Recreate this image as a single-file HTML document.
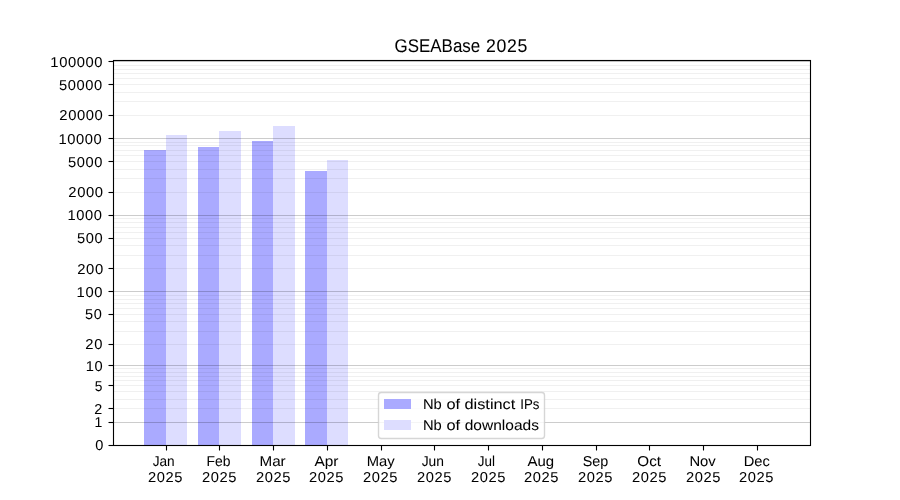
<!DOCTYPE html>
<html><head><meta charset="utf-8"><title>GSEABase 2025</title>
<style>
html,body{margin:0;padding:0;background:#fff;}
svg{display:block;font-family:"Liberation Sans",sans-serif;}
</style></head>
<body>
<svg width="900" height="500" viewBox="0 0 900 500" shape-rendering="geometricPrecision">
<rect x="0" y="0" width="900" height="500" fill="#ffffff"/>
<g>
<rect x="144" y="150" width="22" height="295" fill="#aaaaff"/>
<rect x="166" y="135" width="21" height="310" fill="#ddddff"/>
<rect x="198" y="147" width="21" height="298" fill="#aaaaff"/>
<rect x="219" y="131" width="22" height="314" fill="#ddddff"/>
<rect x="252" y="141" width="21" height="304" fill="#aaaaff"/>
<rect x="273" y="126" width="22" height="319" fill="#ddddff"/>
<rect x="305" y="171" width="22" height="274" fill="#aaaaff"/>
<rect x="327" y="160" width="21" height="285" fill="#ddddff"/>
</g>
<g stroke="#000" stroke-width="1.111" stroke-opacity="0.058">
<path d="M113.5 65.5H810.5"/>
<path d="M113.5 69.5H810.5"/>
<path d="M113.5 73.5H810.5"/>
<path d="M113.5 78.5H810.5"/>
<path d="M113.5 84.5H810.5"/>
<path d="M113.5 92.5H810.5"/>
<path d="M113.5 101.5H810.5"/>
<path d="M113.5 115.5H810.5"/>
<path d="M113.5 142.5H810.5"/>
<path d="M113.5 145.5H810.5"/>
<path d="M113.5 150.5H810.5"/>
<path d="M113.5 155.5H810.5"/>
<path d="M113.5 161.5H810.5"/>
<path d="M113.5 169.5H810.5"/>
<path d="M113.5 178.5H810.5"/>
<path d="M113.5 192.5H810.5"/>
<path d="M113.5 218.5H810.5"/>
<path d="M113.5 222.5H810.5"/>
<path d="M113.5 227.5H810.5"/>
<path d="M113.5 232.5H810.5"/>
<path d="M113.5 238.5H810.5"/>
<path d="M113.5 245.5H810.5"/>
<path d="M113.5 255.5H810.5"/>
<path d="M113.5 268.5H810.5"/>
<path d="M113.5 295.5H810.5"/>
<path d="M113.5 299.5H810.5"/>
<path d="M113.5 303.5H810.5"/>
<path d="M113.5 308.5H810.5"/>
<path d="M113.5 314.5H810.5"/>
<path d="M113.5 321.5H810.5"/>
<path d="M113.5 331.5H810.5"/>
<path d="M113.5 344.5H810.5"/>
<path d="M113.5 368.5H810.5"/>
<path d="M113.5 372.5H810.5"/>
<path d="M113.5 376.5H810.5"/>
<path d="M113.5 380.5H810.5"/>
<path d="M113.5 385.5H810.5"/>
<path d="M113.5 391.5H810.5"/>
<path d="M113.5 399.5H810.5"/>
<path d="M113.5 408.5H810.5"/>
</g>
<g stroke="#000" stroke-width="1.111" stroke-opacity="0.2">
<path d="M113.5 61.5H810.5"/>
<path d="M113.5 138.5H810.5"/>
<path d="M113.5 215.5H810.5"/>
<path d="M113.5 291.5H810.5"/>
<path d="M113.5 365.5H810.5"/>
<path d="M113.5 422.5H810.5"/>
</g>
<g stroke="#000" stroke-width="1.111">
<path d="M108.5 61.5H113.5"/>
<path d="M108.5 84.5H113.5"/>
<path d="M108.5 115.5H113.5"/>
<path d="M108.5 138.5H113.5"/>
<path d="M108.5 161.5H113.5"/>
<path d="M108.5 192.5H113.5"/>
<path d="M108.5 215.5H113.5"/>
<path d="M108.5 238.5H113.5"/>
<path d="M108.5 268.5H113.5"/>
<path d="M108.5 291.5H113.5"/>
<path d="M108.5 314.5H113.5"/>
<path d="M108.5 344.5H113.5"/>
<path d="M108.5 365.5H113.5"/>
<path d="M108.5 385.5H113.5"/>
<path d="M108.5 408.5H113.5"/>
<path d="M108.5 422.5H113.5"/>
<path d="M108.5 445.5H113.5"/>
<path d="M166.5 445.5V450.5"/>
<path d="M219.5 445.5V450.5"/>
<path d="M273.5 445.5V450.5"/>
<path d="M327.5 445.5V450.5"/>
<path d="M381.5 445.5V450.5"/>
<path d="M434.5 445.5V450.5"/>
<path d="M488.5 445.5V450.5"/>
<path d="M542.5 445.5V450.5"/>
<path d="M596.5 445.5V450.5"/>
<path d="M649.5 445.5V450.5"/>
<path d="M703.5 445.5V450.5"/>
<path d="M757.5 445.5V450.5"/>
<rect x="113.5" y="60.5" width="697" height="385" fill="none"/>
</g>
<rect x="378.5" y="392.5" width="166" height="46" rx="2.8" ry="2.8" fill="#fff" fill-opacity="0.8" stroke="#cccccc" stroke-opacity="0.8" stroke-width="1.389"/>
<rect x="384" y="399" width="27" height="10" fill="#aaaaff"/>
<rect x="384" y="420" width="27" height="10" fill="#ddddff"/>
<g fill="#000" stroke="#000" stroke-width="0.04" text-rendering="geometricPrecision" style="filter:grayscale(1)">
<text transform="translate(394.57,52) scale(0.9207,1)" font-size="18.4">GSEABase</text>
<text transform="translate(486.05,52) scale(0.9607,1)" font-size="18.4" letter-spacing="0.69">2025</text>
<text transform="translate(50.35,67) scale(1.0332,1)" font-size="14.3" letter-spacing="0.57">100000</text>
<text transform="translate(58.96,90) scale(1.0275,1)" font-size="14.3" letter-spacing="0.57">50000</text>
<text transform="translate(59.34,120) scale(1.0337,1)" font-size="14.3" letter-spacing="0.57">20000</text>
<text transform="translate(58.45,144) scale(1.0310,1)" font-size="14.3" letter-spacing="0.57">10000</text>
<text transform="translate(67.99,167) scale(1.0270,1)" font-size="14.3" letter-spacing="0.57">5000</text>
<text transform="translate(68.33,197) scale(1.0349,1)" font-size="14.3" letter-spacing="0.57">2000</text>
<text transform="translate(67.44,220) scale(1.0275,1)" font-size="14.3" letter-spacing="0.57">1000</text>
<text transform="translate(76.97,243) scale(1.0263,1)" font-size="14.3" letter-spacing="0.57">500</text>
<text transform="translate(77.28,274) scale(1.0370,1)" font-size="14.3" letter-spacing="0.57">200</text>
<text transform="translate(76.60,297) scale(1.0323,1)" font-size="14.3" letter-spacing="0.57">100</text>
<text transform="translate(85.11,319) scale(1.0164,1)" font-size="14.3" letter-spacing="0.57">50</text>
<text transform="translate(85.34,349) scale(1.0331,1)" font-size="14.3" letter-spacing="0.57">20</text>
<text transform="translate(85.77,371) scale(1.0254,1)" font-size="14.3" letter-spacing="0.57">10</text>
<text transform="translate(94.73,391) scale(0.9630,1)" font-size="14.3" letter-spacing="0.57">5</text>
<text transform="translate(94.25,414) scale(1.0000,1)" font-size="14.3" letter-spacing="0.57">2</text>
<text transform="translate(94.40,427) scale(0.9796,1)" font-size="14.3" letter-spacing="0.57">1</text>
<text transform="translate(95.24,450) scale(1.0182,1)" font-size="14.3" letter-spacing="0.57">0</text>
<text transform="translate(152.70,466) scale(0.9543,1)" font-size="14.3">Jan</text>
<text transform="translate(147.93,482) scale(1.0272,1)" font-size="14.3" letter-spacing="0.57">2025</text>
<text transform="translate(206.58,466) scale(0.9727,1)" font-size="14.3">Feb</text>
<text transform="translate(202.09,482) scale(1.0272,1)" font-size="14.3" letter-spacing="0.57">2025</text>
<text transform="translate(259.46,466) scale(1.0645,1)" font-size="14.3">Mar</text>
<text transform="translate(256.08,482) scale(1.0272,1)" font-size="14.3" letter-spacing="0.57">2025</text>
<text transform="translate(314.40,466) scale(1.0795,1)" font-size="14.3">Apr</text>
<text transform="translate(309.04,482) scale(1.0272,1)" font-size="14.3" letter-spacing="0.57">2025</text>
<text transform="translate(366.72,466) scale(1.0338,1)" font-size="14.3">May</text>
<text transform="translate(363.11,482) scale(1.0272,1)" font-size="14.3" letter-spacing="0.57">2025</text>
<text transform="translate(421.71,466) scale(0.9657,1)" font-size="14.3">Jun</text>
<text transform="translate(416.93,482) scale(1.0272,1)" font-size="14.3" letter-spacing="0.57">2025</text>
<text transform="translate(477.81,466) scale(0.9416,1)" font-size="14.3">Jul</text>
<text transform="translate(471.00,482) scale(1.0272,1)" font-size="14.3" letter-spacing="0.57">2025</text>
<text transform="translate(527.56,466) scale(1.0459,1)" font-size="14.3">Aug</text>
<text transform="translate(523.94,482) scale(1.0272,1)" font-size="14.3" letter-spacing="0.57">2025</text>
<text transform="translate(582.74,466) scale(1.0052,1)" font-size="14.3">Sep</text>
<text transform="translate(577.95,482) scale(1.0272,1)" font-size="14.3" letter-spacing="0.57">2025</text>
<text transform="translate(637.36,466) scale(1.0640,1)" font-size="14.3">Oct</text>
<text transform="translate(631.95,482) scale(1.0272,1)" font-size="14.3" letter-spacing="0.57">2025</text>
<text transform="translate(689.38,466) scale(1.0361,1)" font-size="14.3">Nov</text>
<text transform="translate(685.94,482) scale(1.0272,1)" font-size="14.3" letter-spacing="0.57">2025</text>
<text transform="translate(743.71,466) scale(1.0262,1)" font-size="14.3">Dec</text>
<text transform="translate(738.96,482) scale(1.0272,1)" font-size="14.3" letter-spacing="0.57">2025</text>
<text transform="translate(422.92,409) scale(1.0303,1)" font-size="14.3">Nb</text>
<text transform="translate(446.51,409) scale(1.1444,1)" font-size="14.3">of</text>
<text transform="translate(464.45,409) scale(1.1429,1)" font-size="14.3">distinct</text>
<text transform="translate(520.30,409) scale(0.9267,1)" font-size="14.3">IPs</text>
<text transform="translate(422.91,430) scale(1.0303,1)" font-size="14.3">Nb</text>
<text transform="translate(446.50,430) scale(1.1444,1)" font-size="14.3">of</text>
<text transform="translate(464.71,430) scale(1.0855,1)" font-size="14.3">downloads</text>
</g>
</svg>
</body></html>
